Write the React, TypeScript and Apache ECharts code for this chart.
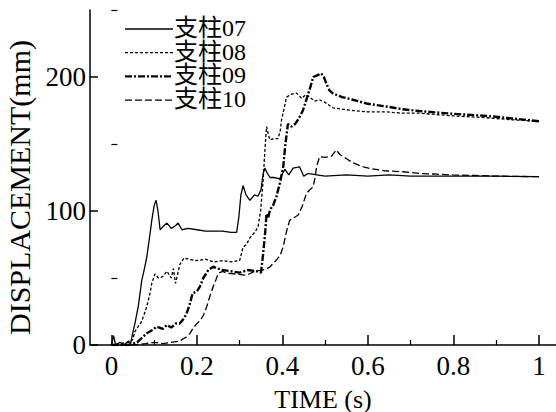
import React, { useEffect, useRef } from "react";
import * as echarts from "echarts";

const seriesNames = ["支柱07", "支柱08", "支柱09", "支柱10"];

const t07 = [0, 0.005, 0.01, 0.02, 0.03, 0.04, 0.045, 0.05, 0.055, 0.063, 0.071, 0.078, 0.083, 0.09, 0.0945, 0.1, 0.1045, 0.109, 0.114, 0.12, 0.13, 0.14, 0.15, 0.156, 0.165, 0.18, 0.2, 0.22, 0.24, 0.26, 0.28, 0.293, 0.298, 0.303, 0.308, 0.315, 0.324, 0.335, 0.343, 0.35, 0.355, 0.359, 0.365, 0.371, 0.38, 0.394, 0.4, 0.406, 0.415, 0.425, 0.44, 0.45, 0.46, 0.48, 0.5, 0.55, 0.6, 0.65, 0.7, 0.8, 0.9, 1.0];
const v07 = [0, 7, 0, 2, 0, 3, 1, 9, 16, 29, 48, 58, 66, 82, 93, 104, 108, 100, 86, 88, 91, 87, 89, 91, 86, 87, 86, 85, 85, 85, 84, 84, 95, 112, 119, 112, 108, 112, 111, 116, 128, 132, 128, 125, 125, 124, 128, 131, 127, 132, 133, 126, 128, 127, 126, 127, 126, 127, 126, 126, 126, 125.6];

const t08 = [0, 0.02, 0.04, 0.05, 0.055, 0.063, 0.07, 0.078, 0.083, 0.09, 0.0945, 0.102, 0.11, 0.12, 0.13, 0.14, 0.145, 0.15, 0.16, 0.17, 0.18, 0.2, 0.22, 0.24, 0.26, 0.28, 0.3, 0.308, 0.316, 0.324, 0.335, 0.343, 0.349, 0.355, 0.36, 0.363, 0.368, 0.371, 0.38, 0.39, 0.395, 0.398, 0.405, 0.41, 0.42, 0.433, 0.445, 0.455, 0.464, 0.475, 0.487, 0.5, 0.518, 0.54, 0.565, 0.6, 0.643, 0.68, 0.72, 0.8, 0.877, 0.94, 1.0];
const v08 = [0, 1, 2, 4, 10, 14, 17, 24, 29, 38, 46, 53, 50, 51, 55, 50, 57, 46, 60, 65, 64, 63, 64, 62, 63, 62, 63, 73, 75, 80, 84, 88, 100, 123, 150, 163, 156, 153, 154, 154, 160, 168, 178, 185, 187, 188, 184, 187, 185, 182, 183, 181, 177, 176, 175, 174, 174, 173, 173, 171, 169.6, 168, 167];

const t09 = [0, 0.04, 0.06, 0.07, 0.083, 0.095, 0.106, 0.12, 0.13, 0.14, 0.15, 0.16, 0.17, 0.176, 0.183, 0.19, 0.2, 0.207, 0.215, 0.227, 0.238, 0.25, 0.26, 0.28, 0.3, 0.32, 0.34, 0.35, 0.355, 0.36, 0.363, 0.367, 0.371, 0.378, 0.386, 0.395, 0.402, 0.407, 0.413, 0.421, 0.43, 0.44, 0.448, 0.456, 0.465, 0.472, 0.48, 0.491, 0.497, 0.503, 0.51, 0.518, 0.54, 0.565, 0.6, 0.643, 0.68, 0.72, 0.8, 0.877, 0.94, 1.0];
const v09 = [0, 0, 2, 5, 8.7, 11, 13.7, 12, 15, 13, 16, 16, 20, 23.6, 30, 38.6, 40, 43.5, 50, 56, 58.4, 57, 56, 55, 54, 56, 55, 54, 68, 85, 98, 95, 101, 104, 110.7, 122, 133, 150, 165, 163, 165, 170, 175, 183, 192, 200, 201, 202.7, 200, 195, 190, 187.8, 185, 183, 180, 178, 176, 174.6, 172.5, 171, 169, 167];

const t10 = [0, 0.05, 0.08, 0.1, 0.12, 0.14, 0.16, 0.17, 0.176, 0.184, 0.19, 0.2, 0.207, 0.215, 0.223, 0.23, 0.238, 0.245, 0.25, 0.26, 0.27, 0.29, 0.316, 0.335, 0.355, 0.37, 0.386, 0.395, 0.402, 0.41, 0.417, 0.427, 0.437, 0.447, 0.456, 0.465, 0.472, 0.477, 0.48, 0.487, 0.5, 0.515, 0.526, 0.535, 0.55, 0.565, 0.58, 0.59, 0.604, 0.64, 0.682, 0.72, 0.76, 0.798, 0.85, 0.9, 1.0];
const v10 = [0, 0, 1, 2, 1, 2, 3, 5, 6, 8.7, 12, 16, 18, 22, 28.6, 36, 43.5, 49, 53.5, 55, 53.5, 53, 52, 55, 56, 58, 63.4, 67, 73.4, 85, 93, 95, 97, 104, 113, 116, 118, 126, 133, 140.5, 140, 141, 145.5, 142, 139, 136, 134, 133, 131.8, 130, 129.3, 128, 127.5, 126.9, 126.5, 126, 125.6];

const xLabels = [0, 0.2, 0.4, 0.6, 0.8, 1];
const xMinorTicks = [0.1, 0.3, 0.5, 0.7, 0.9];
const yLabels = [0, 100, 200];
const yMinorTicks = [50, 150, 250];

const pair = (t: number[], v: number[]) => t.map((x, i) => [x, v[i]]);

const serif = "'Liberation Serif', 'Times New Roman', 'Noto Sans CJK SC', serif";

const styles = [
  { width: 1.3, type: "solid" as any, dash: null as number[] | null },
  { width: 1.3, type: [3, 2], dash: [3, 2] },
  { width: 2.4, type: [7, 2, 2, 2], dash: [7, 2, 2, 2] },
  { width: 1.3, type: [7, 3], dash: [7, 3] },
];

export default function App() {
  const ref = useRef<HTMLDivElement>(null);
  useEffect(() => {
    if (!ref.current) return;
    const chart = echarts.init(ref.current, undefined, { renderer: "svg" });
    const lineBase = { type: "line", symbol: "none", smooth: false, xAxisIndex: 0, yAxisIndex: 0 };
    const seriesData = [pair(t07, v07), pair(t08, v08), pair(t09, v09), pair(t10, v10)];
    const legendGraphics: any[] = [];
    seriesNames.forEach((nm, i) => {
      const cy = 28 + i * 23.7;
      legendGraphics.push({
        type: "line",
        shape: { x1: 125, y1: cy + 1, x2: 173, y2: cy + 1 },
        style: { stroke: "#000", lineWidth: styles[i].width, lineDash: styles[i].dash || undefined },
        silent: true,
      });
      legendGraphics.push({
        type: "text",
        x: 174,
        y: cy,
        style: { text: nm, fill: "#000", font: `24px ${serif}`, textVerticalAlign: "middle", verticalAlign: "middle", align: "left" },
        silent: true,
      });
    });
    chart.setOption({
      animation: false,
      backgroundColor: "#fff",
      grid: { left: 90, right: 0, top: 10, bottom: 67, containLabel: false, outerBoundsMode: "none" },
      graphic: legendGraphics,
      xAxis: [
        {
          type: "value",
          min: -0.05,
          max: 1.04,
          position: "bottom",
          name: "TIME (s)",
          nameLocation: "middle",
          nameGap: 42,
          nameTextStyle: { fontSize: 26, lineHeight: 24, color: "#000", fontFamily: serif },
          axisLine: { show: true, onZero: false, lineStyle: { color: "#000", width: 1.5 } },
          axisTick: { show: true, inside: true, length: 10, customValues: xLabels, lineStyle: { color: "#000", width: 1.5 } },
          axisLabel: { customValues: xLabels, fontSize: 27, color: "#000", fontFamily: serif, margin: 7 },
          splitLine: { show: false },
        },
        {
          type: "value",
          min: -0.05,
          max: 1.04,
          position: "bottom",
          axisLine: { show: false },
          axisTick: { show: true, inside: true, length: 5, customValues: xMinorTicks, lineStyle: { color: "#000", width: 1.2 } },
          axisLabel: { show: false },
          splitLine: { show: false },
        },
      ],
      yAxis: [
        {
          type: "value",
          min: 0,
          max: 250,
          position: "left",
          name: "DISPLACEMENT(mm)",
          nameLocation: "middle",
          nameGap: 56,
          nameRotate: 90,
          nameTextStyle: { fontSize: 30, color: "#000", fontFamily: serif, padding: [0, 20, 0, 0] },
          axisLine: { show: true, onZero: false, lineStyle: { color: "#000", width: 1.5 } },
          axisTick: { show: true, inside: true, length: 8, customValues: yLabels, lineStyle: { color: "#000", width: 1.5 } },
          axisLabel: { customValues: yLabels, fontSize: 27, color: "#000", fontFamily: serif, margin: 4 },
          splitLine: { show: false },
        },
        {
          type: "value",
          min: 0,
          max: 250,
          position: "left",
          axisLine: { show: false },
          axisTick: { show: true, inside: true, length: 6, customValues: yMinorTicks, lineStyle: { color: "#000", width: 1.2 } },
          axisLabel: { show: false },
          splitLine: { show: false },
        },
      ],
      series: seriesNames.map((nm, i) => ({
        ...lineBase,
        name: nm,
        data: seriesData[i],
        lineStyle: { color: "#000", width: styles[i].width, type: styles[i].type },
        itemStyle: { color: "#000" },
      })),
    });
    return () => chart.dispose();
  }, []);
  return <div ref={ref} style={{ width: 556, height: 412, position: "absolute", left: 0, top: 0 }} />;
}
